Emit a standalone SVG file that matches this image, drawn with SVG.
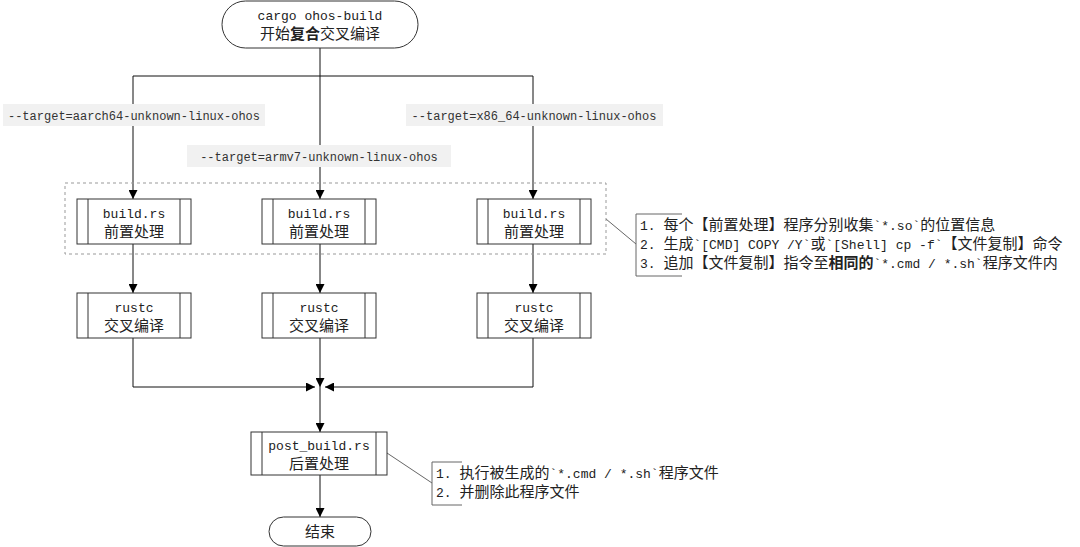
<svg xmlns="http://www.w3.org/2000/svg" width="1080" height="547" viewBox="0 0 1080 547">
<defs>
<style>
text{font-family:"Liberation Mono","Noto Sans CJK SC",monospace;font-size:15px;fill:#222}
.a{font-family:"Liberation Mono",monospace;font-size:13px}
.c{font-family:"Noto Sans CJK SC","Liberation Sans",sans-serif}
.b{font-weight:bold}
.mid{text-anchor:middle}
.box{fill:#fff;stroke:#333;stroke-width:1}
.in{fill:none;stroke:#333;stroke-width:1}
.ln{fill:none;stroke:#111;stroke-width:1}
.note{fill:none;stroke:#666;stroke-width:1}
.lbl{fill:#f1f1f1}
.lt{font-family:"Liberation Mono",monospace;font-size:12px;fill:#333}
</style>
<marker id="arr" markerUnits="userSpaceOnUse" markerWidth="9" markerHeight="9" refX="9" refY="4.5" orient="auto" viewBox="0 0 9 9">
<path d="M0,0 L9,4.5 L0,9 z" fill="#000"/>
</marker>
</defs>

<g id="connectors">
<path class="ln" d="M320,48 V76"/>
<path class="ln" d="M133,76 H533"/>
<path class="ln" d="M133,76 V199" marker-end="url(#arr)"/>
<path class="ln" d="M320,76 V199" marker-end="url(#arr)"/>
<path class="ln" d="M533,76 V199" marker-end="url(#arr)"/>
<path class="ln" d="M133,244 V293" marker-end="url(#arr)"/>
<path class="ln" d="M320,244 V293" marker-end="url(#arr)"/>
<path class="ln" d="M533,244 V293" marker-end="url(#arr)"/>
<path class="ln" d="M133,338 V387 H315" marker-end="url(#arr)"/>
<path class="ln" d="M533,338 V387 H325" marker-end="url(#arr)"/>
<path class="ln" d="M320,338 V387" marker-end="url(#arr)"/>
<path class="ln" d="M320,387 V432" marker-end="url(#arr)"/>
<path class="ln" d="M320,475 V517" marker-end="url(#arr)"/>
<path class="note" d="M606,219 L636,244"/>
<path class="note" d="M387,453 L432,483"/>
</g>

<g id="group-prebuild">
<rect x="65" y="183" width="541" height="71" fill="none" stroke="#999" stroke-width="1" stroke-dasharray="3,3"/>
</g>

<g id="label-aarch64">
<rect class="lbl" x="3" y="104" width="262" height="22"/>
<text class="lt" x="134" y="120" text-anchor="middle">--target=aarch64-unknown-linux-ohos</text>
</g>
<g id="label-armv7">
<rect class="lbl" x="187" y="145" width="264" height="22"/>
<text class="lt" x="319" y="161" text-anchor="middle">--target=armv7-unknown-linux-ohos</text>
</g>
<g id="label-x86">
<rect class="lbl" x="406" y="104" width="257" height="22"/>
<text class="lt" x="534" y="120" text-anchor="middle">--target=x86_64-unknown-linux-ohos</text>
</g>

<g id="start">
<rect class="box" x="222" y="1" width="196" height="47" rx="23.5"/>
<text class="mid"><tspan class="a" x="320" y="20">cargo ohos-build</tspan><tspan class="c" x="320" y="39">开始<tspan class="b">复合</tspan>交叉编译</tspan></text>
</g>

<g id="build1">
<rect class="box" x="77" y="199" width="114" height="45"/>
<path class="in" d="M88,199 V244 M180,199 V244"/>
<text class="mid"><tspan class="a" x="134" y="218">build.rs</tspan><tspan class="c" x="134" y="237">前置处理</tspan></text>
</g>
<g id="build2">
<rect class="box" x="262" y="199" width="114" height="45"/>
<path class="in" d="M273,199 V244 M365,199 V244"/>
<text class="mid"><tspan class="a" x="319" y="218">build.rs</tspan><tspan class="c" x="319" y="237">前置处理</tspan></text>
</g>
<g id="build3">
<rect class="box" x="477" y="199" width="114" height="45"/>
<path class="in" d="M488,199 V244 M580,199 V244"/>
<text class="mid"><tspan class="a" x="534" y="218">build.rs</tspan><tspan class="c" x="534" y="237">前置处理</tspan></text>
</g>

<g id="rustc1">
<rect class="box" x="77" y="293" width="114" height="45"/>
<path class="in" d="M88,293 V338 M180,293 V338"/>
<text class="mid"><tspan class="a" x="134" y="312">rustc</tspan><tspan class="c" x="134" y="331">交叉编译</tspan></text>
</g>
<g id="rustc2">
<rect class="box" x="262" y="293" width="114" height="45"/>
<path class="in" d="M273,293 V338 M365,293 V338"/>
<text class="mid"><tspan class="a" x="319" y="312">rustc</tspan><tspan class="c" x="319" y="331">交叉编译</tspan></text>
</g>
<g id="rustc3">
<rect class="box" x="477" y="293" width="114" height="45"/>
<path class="in" d="M488,293 V338 M580,293 V338"/>
<text class="mid"><tspan class="a" x="534" y="312">rustc</tspan><tspan class="c" x="534" y="331">交叉编译</tspan></text>
</g>

<g id="postbuild">
<rect class="box" x="251" y="432" width="136" height="43"/>
<path class="in" d="M262,432 V475 M376,432 V475"/>
<text class="mid"><tspan class="a" x="319" y="450">post_build.rs</tspan><tspan class="c" x="319" y="469">后置处理</tspan></text>
</g>

<g id="end">
<rect class="box" x="269" y="517" width="102" height="29" rx="14.5"/>
<text class="mid c" x="320" y="537">结束</text>
</g>

<g id="note1">
<path class="note" d="M682,214 H636 V276 H682"/>
<text><tspan x="640" y="230"><tspan class="a">1. </tspan><tspan class="c">每个【前置处理】程序分别收集</tspan><tspan class="a">`*.so`</tspan><tspan class="c">的位置信息</tspan></tspan><tspan x="640" y="249"><tspan class="a">2. </tspan><tspan class="c">生成</tspan><tspan class="a">`[CMD] COPY /Y`</tspan><tspan class="c">或</tspan><tspan class="a">`[Shell] cp -f`</tspan><tspan class="c">【文件复制】命令</tspan></tspan><tspan x="640" y="268"><tspan class="a">3. </tspan><tspan class="c">追加【文件复制】指令至</tspan><tspan class="c b">相同的</tspan><tspan class="a">`*.cmd / *.sh`</tspan><tspan class="c">程序文件内</tspan></tspan></text>
</g>

<g id="note2">
<path class="note" d="M462,462 H432 V505 H462"/>
<text><tspan x="436" y="478"><tspan class="a">1. </tspan><tspan class="c">执行被生成的</tspan><tspan class="a">`*.cmd / *.sh`</tspan><tspan class="c">程序文件</tspan></tspan><tspan x="436" y="497"><tspan class="a">2. </tspan><tspan class="c">并删除此程序文件</tspan></tspan></text>
</g>
</svg>
